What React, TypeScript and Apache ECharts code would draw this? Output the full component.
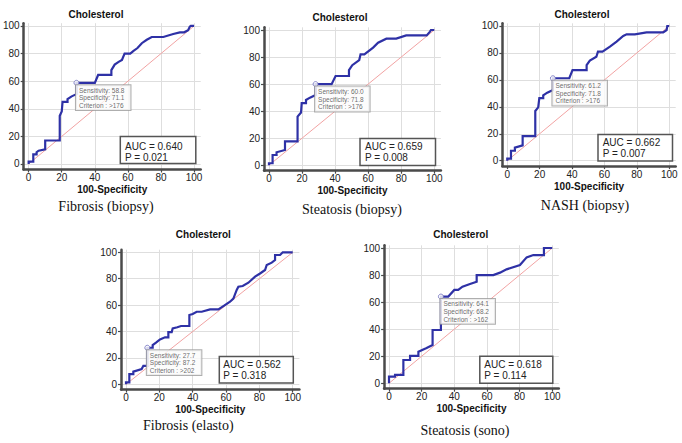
import React, { useEffect, useRef } from "react";
import * as echarts from "echarts";

// ---------- data ----------
const panelTitle = "Cholesterol";
const xAxisTitle = "100-Specificity";
const captions = ["Fibrosis (biopsy)", "Steatosis (biopsy)", "NASH (biopsy)", "Fibrosis (elasto)", "Steatosis (sono)"];
const tickValues = [0, 20, 40, 60, 80, 100];
const diagonal = [[0, 0], [100, 100]];

const rocFibrosisBiopsy = [
  [0, 0], [0, 1.7], [2.8, 1.7], [2.8, 7], [4.8, 7], [4.8, 8.5], [6, 9.6], [10, 10.6], [10, 17], [18.8, 17],
  [18.8, 35], [20, 38], [20.5, 45], [23.5, 45], [23.5, 47], [26, 49], [28.9, 50.6], [28.9, 58.8], [40, 58.8],
  [42, 64.5], [50, 64.5], [50, 68], [52, 72], [54.4, 74], [56.4, 75.4], [58, 80], [61.4, 80], [63.4, 82],
  [65.8, 84], [68.4, 87.5], [71.4, 90], [74.4, 92], [81.4, 92], [87.4, 94.2], [91.4, 95.4], [94, 95.4],
  [96.4, 97], [97.4, 99.5], [98, 100], [100, 100],
];
const rocSteatosisBiopsy = [
  [0, 0], [0, 1.5], [2.2, 1.5], [2.2, 7.6], [4.6, 7.6], [4.6, 9.6], [9.7, 11.3], [9.7, 17.7], [17.3, 17.7],
  [17.3, 36], [19.4, 39], [19.8, 46], [22.4, 46], [22.4, 48.3], [24.8, 50], [28.2, 52], [28.2, 60], [37.9, 60],
  [40.3, 66], [48.4, 66], [48.4, 70.4], [50.4, 74], [54.6, 77.8], [55.4, 82], [57.7, 82], [63, 87], [66, 90.6],
  [71, 93.6], [77, 93.6], [83, 96], [95.4, 96], [97.4, 98.8], [98, 100], [100, 100],
];
const rocNashBiopsy = [
  [0, 0], [0, 1.5], [2.3, 1.5], [2.3, 7.4], [4.7, 7.4], [4.7, 9.7], [9.5, 11.4], [9.5, 18.3], [17.3, 18.3],
  [17.3, 36.9], [19.1, 39.6], [19.8, 46.5], [22.2, 46.5], [22.2, 48.5], [24.7, 50.5], [28.2, 52.5], [28.2, 61.2],
  [38.3, 61.2], [40.3, 67.3], [49, 67.3], [49, 71], [51, 74.3], [55, 77.2], [56, 81], [58.8, 81], [63.4, 84.7],
  [67.5, 88.4], [71.6, 92.6], [73.7, 93.8], [78.8, 93.8], [86, 95.3], [96.3, 95.3], [98.4, 97], [98.8, 100], [100, 100],
];
const rocFibrosisElasto = [
  [0, 0], [0, 1.5], [2, 1.5], [2, 7.8], [4.4, 7.8], [4.4, 9.6], [9.4, 11.6], [10.4, 14], [12.8, 14], [12.8, 27.7],
  [16, 27.7], [16, 29.8], [18, 31.6], [20.4, 34], [23.4, 35.6], [25.4, 35.6], [25.4, 39.6], [27.4, 39.6],
  [28, 42.4], [30.8, 43.2], [33, 44.2], [38, 44.2], [38, 52.5], [40, 53.3], [42.4, 55], [45.4, 55], [50.4, 56.8],
  [55.4, 56.8], [58.4, 59.3], [62.4, 62.6], [64.4, 65], [66.4, 71.5], [67.4, 74], [70, 74.5], [73.4, 77],
  [77.4, 81.6], [80.4, 84], [83.4, 86.6], [84.4, 90.4], [87.4, 92.2], [89.4, 94.2], [89.4, 98], [92.4, 98],
  [94, 100], [100, 100],
];
const rocSteatosisSono = [
  [0, 0], [0, 4.9], [3.7, 4.9], [3.7, 6.2], [8.8, 6.2], [8.8, 17.2], [12.9, 17.2], [12.9, 20.2], [18, 20.2],
  [18, 23.4], [22.7, 25.9], [26.7, 28.3], [26.7, 39.4], [31.8, 39.4], [31.8, 64.1], [36.3, 64.1], [40, 69],
  [42.4, 69], [45, 71.4], [49.6, 73.4], [53.7, 75.1], [53.7, 80], [63.9, 80], [68, 81.8], [72, 84.2],
  [80.2, 87.4], [84.3, 93.1], [88.4, 94.8], [94.9, 94.8], [94.9, 100], [100, 100],
];
const rocCurves = [rocFibrosisBiopsy, rocSteatosisBiopsy, rocNashBiopsy, rocFibrosisElasto, rocSteatosisSono];

const sensitivity = [58.8, 60.0, 61.2, 27.7, 64.1];
const specificity = [71.1, 71.8, 71.8, 87.2, 68.2];
const criterion = [">176", ">176", ">176", ">202", ">162"];
const aucValues = ["0.640", "0.659", "0.662", "0.562", "0.618"];
const pValues = ["0.021", "0.008", "0.007", "0.318", "0.114"];

// ---------- layout (pixels) ----------
const layouts = [
  { left: 22.7, top: 23.2, width: 178, height: 146.3, title: [96, 14], caption: [106, 206], box: [120.3, 136.5, 75.5, 27], txt: [125, 151.5] },
  { left: 264, top: 27.3, width: 176.9, height: 143.4, title: [340, 17], caption: [352, 209], box: [360, 138.5, 75.5, 27], txt: [365, 152] },
  { left: 502.4, top: 23.3, width: 173.3, height: 142.8, title: [582, 14], caption: [585, 205], box: [598, 134.5, 74.5, 26.5], txt: [602.7, 147.8] },
  { left: 121, top: 249.7, width: 178.4, height: 139.9, title: [203.3, 234.3], caption: [188.3, 425], box: [219.3, 356.5, 74, 26.5], txt: [223.3, 369.8] },
  { left: 384.1, top: 245.3, width: 174.7, height: 143.4, title: [460.7, 234.3], caption: [465, 430], box: [479.8, 356.3, 73, 27], txt: [484.3, 370.4] },
];

const SANS = "Liberation Sans, Arial, sans-serif";
const SERIF = "Liberation Serif, Times New Roman, serif";
const AXIS_COLOR = "#4a4a4a";

function txt(x: number, y: number, text: string, size: number, opts: any = {}) {
  return {
    type: "text",
    x,
    y,
    z: 100,
    silent: true,
    style: {
      text,
      fontSize: size,
      lineHeight: opts.lineHeight,
      fontFamily: opts.family || SANS,
      fontWeight: opts.weight || "normal",
      fill: opts.color || "#111",
      align: opts.align || "center",
      verticalAlign: "middle",
      textAlign: opts.align || "center",
      textVerticalAlign: "middle",
    },
  };
}

function buildOption() {
  const grid: any[] = [];
  const xAxis: any[] = [];
  const yAxis: any[] = [];
  const series: any[] = [];
  const graphic: any[] = [];

  layouts.forEach((L, i) => {
    grid.push({ left: L.left, top: L.top, width: L.width, height: L.height, containLabel: false });
    const common = {
      gridIndex: i,
      type: "value",
      axisLine: { show: true, onZero: false, lineStyle: { color: AXIS_COLOR, width: 2.5 } },
      axisTick: { show: true, length: 3, customValues: tickValues, lineStyle: { color: AXIS_COLOR, width: 1.2 } },
      splitLine: { show: true, lineStyle: { color: "#dedede", width: 1 } },
    };
    xAxis.push({
      ...common,
      min: -3,
      max: 104,
      axisLabel: { customValues: tickValues, fontSize: 10, color: "#222", margin: 3, fontFamily: SANS },
      name: xAxisTitle,
      nameLocation: "middle",
      nameGap: 15,
      nameTextStyle: { fontWeight: "bold", fontSize: 10, color: "#111", fontFamily: SANS },
    });
    yAxis.push({
      ...common,
      min: -4,
      max: 102,
      axisLabel: { customValues: tickValues, fontSize: 10, color: "#222", margin: 4, fontFamily: SANS },
    });

    series.push({
      type: "line",
      xAxisIndex: i,
      yAxisIndex: i,
      data: diagonal,
      symbol: "none",
      silent: true,
      lineStyle: { color: "#f2a3a3", width: 1 },
      z: 1,
    });
    series.push({
      type: "line",
      xAxisIndex: i,
      yAxisIndex: i,
      data: rocCurves[i],
      symbol: "none",
      silent: true,
      lineStyle: { color: "#2e31a6", width: 2.2, join: "miter" },
      z: 2,
    });
    series.push({
      type: "scatter",
      xAxisIndex: i,
      yAxisIndex: i,
      data: [[+(100 - specificity[i]).toFixed(1), sensitivity[i]]],
      symbol: "circle",
      symbolSize: 5,
      silent: true,
      itemStyle: { color: "#ffffff", borderColor: "#6b6bbb", borderWidth: 1 },
      label: {
        show: true,
        position: [2.5, 5.5],
        formatter: () =>
          `Sensitivity: ${sensitivity[i].toFixed(1)}\nSpecificity: ${specificity[i].toFixed(1)}\nCriterion : ${criterion[i]}`,
        fontSize: 6.5,
        lineHeight: 7.6,
        color: "#444",
        fontFamily: SANS,
        backgroundColor: "#fbfbfb",
        borderColor: "#9a9a9a",
        borderWidth: 1,
        padding: [1, 6, 1, 3],
        align: "left",
        verticalAlign: "top",
      },
      z: 3,
    });

    graphic.push(txt(L.title[0], L.title[1], panelTitle, 10, { weight: "bold" }));
    graphic.push(txt(L.caption[0], L.caption[1], captions[i], 14, { family: SERIF }));
    graphic.push({
      type: "rect",
      z: 99,
      silent: true,
      shape: { x: L.box[0], y: L.box[1], width: L.box[2], height: L.box[3] },
      style: { fill: "#ffffff", stroke: "#555555", lineWidth: 1.5 },
    });
    graphic.push(
      txt(L.txt[0], L.txt[1], `AUC = ${aucValues[i]}\nP = ${pValues[i]}`, 10, {
        align: "left",
        color: "#222",
        lineHeight: 11,
      })
    );
  });

  return { animation: false, backgroundColor: "#ffffff", grid, xAxis, yAxis, series, graphic };
}

export default function App() {
  const ref = useRef<HTMLDivElement>(null);
  useEffect(() => {
    document.body.style.margin = "0";
    if (!ref.current) return;
    const chart = echarts.init(ref.current, null, { renderer: "svg" });
    chart.setOption(buildOption() as any);
    return () => chart.dispose();
  }, []);
  return <div ref={ref} style={{ width: 682, height: 443 }} />;
}
